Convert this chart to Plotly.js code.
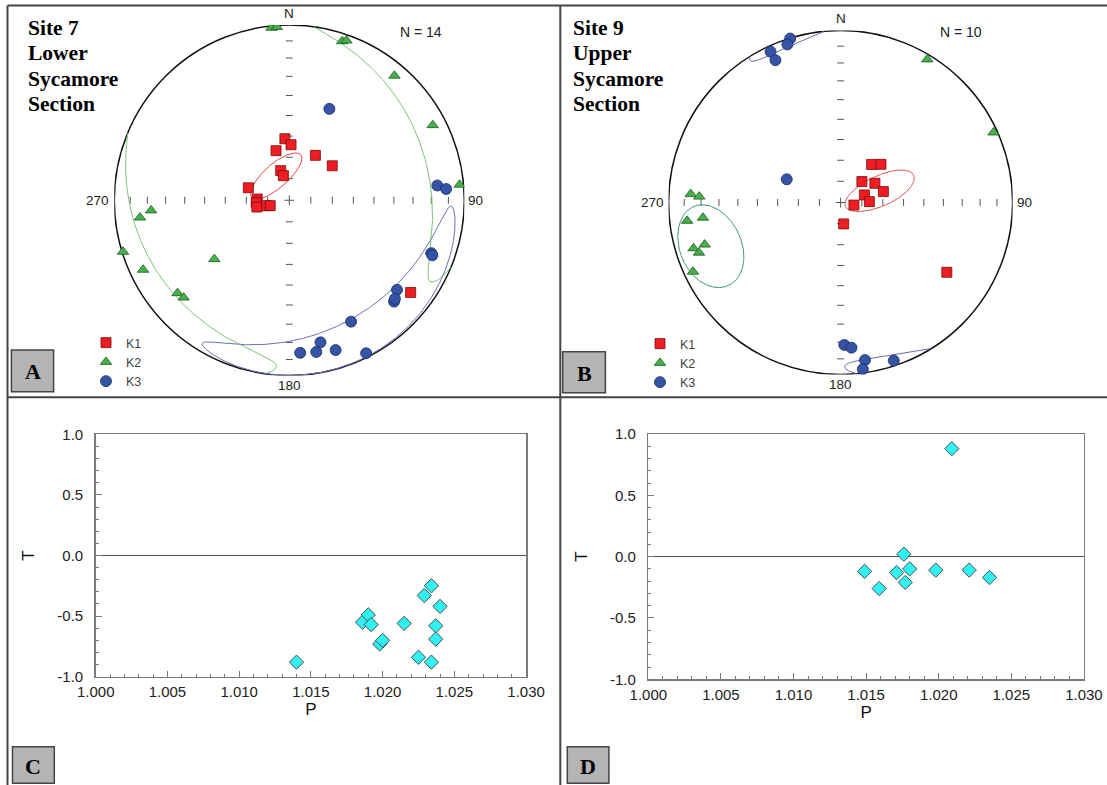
<!DOCTYPE html>
<html>
<head>
<meta charset="utf-8">
<script src="https://cdn.plot.ly/plotly-3.0.1.min.js"></script>
<style>
html, body { margin: 0; padding: 0; background: #ffffff; }
#fig { width: 1107px; height: 785px; }
</style>
</head>
<body>
<div id="fig"></div>
<script>
// ---- Site 7 (Lower Sycamore) principal susceptibility axes: declination / inclination (deg)
const site7K1Dec = [355.9, 1.8, 345.0, 30.2, 51.3, 343.8, 346.4, 286.9, 272.2, 266.1, 258.2, 256.5, 254.3, 127.2];
const site7K1Inc = [61.2, 64.1, 66.1, 65.8, 64.3, 75.7, 78.3, 70.1, 75.1, 74.6, 74.6, 79.2, 80.8, 14.0];
const site7K2Dec = [354.1, 355.9, 18.4, 19.7, 40.2, 62.4, 84.8, 265.8, 263.4, 252.8, 231.9, 244.6, 230.3, 227.4];
const site7K2Inc = [1.2, 1.0, 4.9, 3.6, 7.7, 8.3, 2.6, 21.9, 15.2, 0.6, 44.7, 8.3, 18.1, 19.1];
const site7K3Dec = [23.7, 84.3, 85.9, 110.4, 111.0, 129.7, 134.0, 133.0, 153.0, 167.6, 175.9, 169.9, 162.8, 153.3];
const site7K3Inc = [42.5, 16.1, 11.1, 14.5, 13.5, 21.1, 17.9, 18.6, 23.3, 18.1, 13.8, 13.1, 11.5, 2.6];

// ---- Site 9 (Upper Sycamore)
const site9K1Dec = [39.2, 46.6, 45.5, 60.8, 75.7, 72.3, 88.3, 100.9, 171.8, 123.3];
const site9K1Inc = [66.7, 63.6, 75.9, 71.4, 69.1, 78.2, 76.4, 83.6, 79.8, 27.0];
const site9K2Dec = [31.2, 65.4, 273.2, 272.4, 263.2, 263.7, 252.8, 252.7, 250.5, 244.9];
const site9K2Inc = [3.1, 2.5, 13.8, 18.9, 11.1, 20.6, 18.4, 11.4, 13.7, 5.8];
const site9K3Dec = [342.9, 341.4, 335.1, 335.4, 293.3, 178.5, 175.7, 171.2, 161.4, 172.4];
const site9K3Inc = [0.3, 3.4, 3.7, 9.9, 62.1, 18.3, 16.5, 8.1, 3.4, 2.5];

// ---- 95% confidence regions: [mean dec, mean inc, semi-angle a, semi-angle b, axis rotation] (deg)
const site7K1Cone = [331.5, 77.1, 15, 5.5, -13];
const site7K2Cone = [62, 2, 58, 17, 8];
const site7K3Cone = [152, 12.5, 59, 12, -2];
const site9K1Cone = [73.7, 70.5, 18, 7, 82];
const site9K2Cone = [251.3, 20.4, 16.5, 18, 22];
const site9K3Cone = [163, 1.5, 16, 6, 15];

// ---- Jelinek shape parameter T versus corrected anisotropy degree P
const site7P = [1.0140, 1.0186, 1.0190, 1.0192, 1.0198, 1.0200, 1.0215, 1.0225, 1.0229, 1.0234, 1.0234, 1.0237, 1.0237, 1.0240];
const site7T = [-0.88, -0.55, -0.49, -0.57, -0.73, -0.70, -0.56, -0.84, -0.33, -0.25, -0.88, -0.58, -0.69, -0.42];
const site9P = [1.0209, 1.0176, 1.0149, 1.0159, 1.0171, 1.0177, 1.0180, 1.0198, 1.0221, 1.0235];
const site9T = [0.88, 0.02, -0.12, -0.26, -0.13, -0.21, -0.10, -0.11, -0.11, -0.17];

// ---- labels
const netTickInc = [10, 20, 30, 40, 50, 60, 70, 80];
const compassLabels = ['N', '90', '180', '270'];
const tValues = [-1, -0.5, 0, 0.5, 1];
const tLabels = ['-1.0', '-0.5', '0.0', '0.5', '1.0'];
const axisNames = ['K1', 'K2', 'K3'];

// ---------------------------------------------------------------------------
const D2R = Math.PI / 180;
const W = 1107, H = 785;
const px = v => v / W;          // pixel -> paper x
const py = v => 1 - v / H;      // pixel -> paper y

// Lambert equal-area (Schmidt) projection, lower hemisphere
function project(dec, inc) {
  if (inc < 0) { dec += 180; inc = -inc; }
  const r = Math.SQRT2 * Math.sin((90 - inc) * D2R / 2);
  return [r * Math.sin(dec * D2R), r * Math.cos(dec * D2R)];
}
function projectAll(decs, incs) {
  const xs = [], ys = [];
  decs.forEach((d, i) => { const p = project(d, incs[i]); xs.push(p[0]); ys.push(p[1]); });
  return { xs, ys };
}
function unit(dec, inc) {
  const d = dec * D2R, i = inc * D2R;
  return [Math.cos(i) * Math.cos(d), Math.cos(i) * Math.sin(d), Math.sin(i)];
}
// Elliptical cone around a mean axis, traced on the sphere and folded into the lower hemisphere
function coneOutline(cone) {
  const [dec, inc, a, b, rot] = cone;
  const m = unit(dec, inc);
  const d = dec * D2R, i = inc * D2R, p = rot * D2R;
  const n1 = [-Math.sin(d), Math.cos(d), 0];
  const n2 = [-Math.sin(i) * Math.cos(d), -Math.sin(i) * Math.sin(d), Math.cos(i)];
  const u = n1.map((v, k) => Math.cos(p) * v + Math.sin(p) * n2[k]);
  const w = n1.map((v, k) => -Math.sin(p) * v + Math.cos(p) * n2[k]);
  const ta = Math.tan(a * D2R), tb = Math.tan(b * D2R);
  const xs = [], ys = [];
  let prevUp = null;
  const steps = 1440;
  for (let k = 0; k <= steps; k++) {
    const t = 2 * Math.PI * k / steps;
    let v = m.map((mv, j) => mv + ta * Math.cos(t) * u[j] + tb * Math.sin(t) * w[j]);
    const n = Math.hypot(v[0], v[1], v[2]);
    v = v.map(c => c / n);
    const up = v[2] < 0;
    if (prevUp !== null && up !== prevUp) { xs.push(null); ys.push(null); }
    prevUp = up;
    const vi = Math.asin(v[2]) / D2R, vd = Math.atan2(v[1], v[0]) / D2R;
    const q = project(vd, vi);
    xs.push(q[0]); ys.push(q[1]);
  }
  return { xs, ys };
}

const markerStyles = [
  { symbol: 'square', size: 10, color: '#ee1d23', line: { color: '#7a0d0d', width: 0.8 } },
  { symbol: 'triangle-up', size: 10, color: '#47b04b', line: { color: '#1b5a1e', width: 0.8 } },
  { symbol: 'circle', size: 11, color: '#3554a5', line: { color: '#1a2a66', width: 0.8 } }
];

const traces = [];
const shapes = [];
const annotations = [];

function stereonet(n, sets, cones, coneColors, legendId) {
  const xa = n === 1 ? 'x' : 'x' + n, ya = n === 1 ? 'y' : 'y' + n;
  // graduation ticks along the E-W and N-S diameters
  const ew = { xs: [], ys: [] }, ns = { xs: [], ys: [] };
  netTickInc.forEach(t => {
    [90, 270].forEach(az => { const q = project(az, t); ew.xs.push(q[0]); ew.ys.push(q[1]); });
    [0, 180].forEach(az => { const q = project(az, t); ns.xs.push(q[0]); ns.ys.push(q[1]); });
  });
  const tickLine = { color: '#555', width: 1 };
  traces.push({ type: 'scatter', mode: 'markers', x: ew.xs, y: ew.ys, xaxis: xa, yaxis: ya, showlegend: false,
    hoverinfo: 'skip', marker: { symbol: 'line-ns', size: 5, line: tickLine } });
  traces.push({ type: 'scatter', mode: 'markers', x: ns.xs, y: ns.ys, xaxis: xa, yaxis: ya, showlegend: false,
    hoverinfo: 'skip', marker: { symbol: 'line-ew', size: 5, line: tickLine } });
  const c = project(0, 90);
  traces.push({ type: 'scatter', mode: 'markers', x: [c[0]], y: [c[1]], xaxis: xa, yaxis: ya, showlegend: false,
    hoverinfo: 'skip', marker: { symbol: 'cross-thin', size: 7, line: tickLine } });
  // confidence regions
  cones.forEach((cone, k) => {
    const o = coneOutline(cone);
    traces.push({ type: 'scatter', mode: 'lines', x: o.xs, y: o.ys, xaxis: xa, yaxis: ya, showlegend: false,
      hoverinfo: 'skip', connectgaps: false, line: { color: coneColors[k], width: 1 } });
  });
  // principal axes
  sets.forEach((s, k) => {
    const pr = projectAll(s[0], s[1]);
    traces.push({ type: 'scatter', mode: 'markers', name: axisNames[k], x: pr.xs, y: pr.ys,
      xaxis: xa, yaxis: ya, legend: legendId, marker: markerStyles[k] });
  });
  // primitive circle
  shapes.push({ type: 'circle', xref: xa, yref: ya, x0: -1, x1: 1, y0: -1, y1: 1, layer: 'below',
    line: { color: '#111', width: 1.5 } });
  // compass labels
  const lf = { family: 'Liberation Sans, Arial, sans-serif', size: 13.5, color: '#222' };
  annotations.push({ xref: xa, yref: ya, x: 0, y: 1, text: compassLabels[0], showarrow: false, xanchor: 'center', yanchor: 'bottom', yshift: 2, font: lf });
  annotations.push({ xref: xa, yref: ya, x: 1, y: 0, text: compassLabels[1], showarrow: false, xanchor: 'left', yanchor: 'middle', xshift: 2, font: lf });
  annotations.push({ xref: xa, yref: ya, x: 0, y: -1, text: compassLabels[2], showarrow: false, xanchor: 'center', yanchor: 'top', yshift: 0, font: lf });
  annotations.push({ xref: xa, yref: ya, x: -1, y: 0, text: compassLabels[3], showarrow: false, xanchor: 'right', yanchor: 'middle', xshift: -3, font: lf });
}

stereonet(1, [[site7K1Dec, site7K1Inc], [site7K2Dec, site7K2Inc], [site7K3Dec, site7K3Inc]],
  [site7K1Cone, site7K2Cone, site7K3Cone], ['#e8474a', '#7cc576', '#6b74b5'], 'legend');
stereonet(2, [[site9K1Dec, site9K1Inc], [site9K2Dec, site9K2Inc], [site9K3Dec, site9K3Inc]],
  [site9K1Cone, site9K2Cone, site9K3Cone], ['#e3545a', '#3f9b72', '#6b6fa8'], 'legend2');

const diamond = { symbol: 'diamond', size: 11, color: '#30f2f2', line: { color: '#4d4d4d', width: 1 } };
traces.push({ type: 'scatter', mode: 'markers', x: site7P, y: site7T, xaxis: 'x3', yaxis: 'y3', showlegend: false, marker: diamond });
traces.push({ type: 'scatter', mode: 'markers', x: site9P, y: site9T, xaxis: 'x4', yaxis: 'y4', showlegend: false, marker: diamond });

// panel headings
const serifBold = { family: 'Liberation Serif, Times New Roman, serif', size: 21.5, color: '#000' };
const headingRows = [28, 53.3, 78.6, 103.9];
[['Site 7', 'Lower', 'Sycamore', 'Section'], ['Site 9', 'Upper', 'Sycamore', 'Section']].forEach((rows, k) => {
  const left = k === 0 ? 25.5 : 570.5;
  rows.forEach((r, j) => annotations.push({ xref: 'paper', yref: 'paper', x: px(left), y: py(headingRows[j]),
    xanchor: 'left', yanchor: 'middle', text: '<b>' + r + '</b>', showarrow: false, font: serifBold }));
});
const sans14 = { family: 'Liberation Sans, Arial, sans-serif', size: 14, color: '#222' };
annotations.push({ xref: 'paper', yref: 'paper', x: px(421.4), y: py(32.3), xanchor: 'center', yanchor: 'middle',
  text: 'N = ' + site7K1Dec.length, showarrow: false, font: sans14 });
annotations.push({ xref: 'paper', yref: 'paper', x: px(960.8), y: py(32.3), xanchor: 'center', yanchor: 'middle',
  text: 'N = ' + site9K1Dec.length, showarrow: false, font: sans14 });

// panel letters in grey boxes
const letterBoxes = [['A', 11.4, 53.6, 350, 391.7], ['B', 562.7, 605.4, 351.7, 392.7],
                     ['C', 12.5, 54.3, 746.7, 783.3], ['D', 567.3, 608.9, 746.7, 783.3]];
letterBoxes.forEach(([t, x0, x1, y0, y1]) => {
  shapes.push({ type: 'rect', xref: 'paper', yref: 'paper', x0: px(x0), x1: px(x1), y0: py(y1), y1: py(y0),
    fillcolor: '#b4b4b4', line: { color: '#444', width: 1.5 } });
  annotations.push({ xref: 'paper', yref: 'paper', x: px((x0 + x1) / 2), y: py((y0 + y1) / 2 + 1), xanchor: 'center', yanchor: 'middle',
    text: '<b>' + t + '</b>', showarrow: false,
    font: { family: 'Liberation Serif, Times New Roman, serif', size: 22, color: '#000' } });
});

// panel frame lines
const frame = { color: '#444', width: 2 };
shapes.push({ type: 'line', xref: 'paper', yref: 'paper', x0: px(7.5), x1: 1, y0: py(5.5), y1: py(5.5), line: frame });
shapes.push({ type: 'line', xref: 'paper', yref: 'paper', x0: px(7.5), x1: px(7.5), y0: py(5.5), y1: 0, line: frame });
shapes.push({ type: 'line', xref: 'paper', yref: 'paper', x0: px(560.3), x1: px(560.3), y0: py(5.5), y1: 0, line: frame });
shapes.push({ type: 'line', xref: 'paper', yref: 'paper', x0: px(7.5), x1: 1, y0: py(397.3), y1: py(397.3), line: frame });

const netAxis = dom => ({ domain: dom, range: [-1, 1], visible: false, fixedrange: true });
const tickFont = { family: 'Liberation Sans, Arial, sans-serif', size: 15, color: '#222' };
const titleFont = { family: 'Liberation Sans, Arial, sans-serif', size: 17, color: '#111' };
const pAxis = dom => ({
  domain: dom, range: [1.0, 1.03], tick0: 1.0, dtick: 0.005, tickformat: '.3f',
  ticks: 'inside', ticklen: 6, tickcolor: '#777', tickwidth: 1,
  minor: { dtick: 0.001, ticks: 'inside', ticklen: 3, tickcolor: '#777', tickwidth: 1 },
  showline: true, mirror: true, linecolor: '#7a7a7a', linewidth: 1.5, showgrid: false, zeroline: false,
  tickfont: tickFont, ticklabelstandoff: 1,
  title: { text: 'P', font: titleFont, standoff: 0 }
});
const tAxis = dom => ({
  domain: dom, range: [-1, 1], tickmode: 'array', tickvals: tValues, ticktext: tLabels,
  ticks: 'inside', ticklen: 6, tickcolor: '#777', tickwidth: 1,
  minor: { dtick: 0.1, ticks: 'inside', ticklen: 3, tickcolor: '#777', tickwidth: 1 },
  showline: true, mirror: true, linecolor: '#7a7a7a', linewidth: 1.5, showgrid: false,
  zeroline: true, zerolinecolor: '#555', zerolinewidth: 1,
  tickfont: tickFont, ticklabelstandoff: 8,
  title: { text: 'T', font: titleFont, standoff: 18 }
});

const legendBase = { xanchor: 'left', yanchor: 'top', bgcolor: 'rgba(0,0,0,0)', borderwidth: 0,
  font: { family: 'Liberation Sans, Arial, sans-serif', size: 12.5, color: '#444' }, tracegroupgap: 0, itemwidth: 30 };

const layout = {
  width: W, height: H,
  margin: { l: 0, r: 0, t: 0, b: 0, pad: 0 },
  paper_bgcolor: '#ffffff', plot_bgcolor: 'rgba(0,0,0,0)',
  font: { family: 'Liberation Sans, Arial, sans-serif' },
  xaxis: netAxis([px(114.3), px(464.3)]),
  yaxis: netAxis([py(375.5), py(25)]),
  xaxis2: netAxis([px(668.6), px(1012.6)]),
  yaxis2: netAxis([py(374.5), py(30.5)]),
  xaxis3: Object.assign(pAxis([px(95.7), px(526.1)]), { anchor: 'y3' }),
  yaxis3: Object.assign(tAxis([py(676.7), py(434.3)]), { anchor: 'x3' }),
  xaxis4: Object.assign(pAxis([px(648.3), px(1083.9)]), { anchor: 'y4' }),
  yaxis4: Object.assign(tAxis([py(679.3), py(434)]), { anchor: 'x4' }),
  legend: Object.assign({ x: px(86), y: py(328) }, legendBase),
  legend2: Object.assign({ x: px(640), y: py(329) }, legendBase),
  shapes: shapes,
  annotations: annotations
};

Plotly.newPlot('fig', traces, layout, { staticPlot: true, displayModeBar: false });
</script>
</body>
</html>
